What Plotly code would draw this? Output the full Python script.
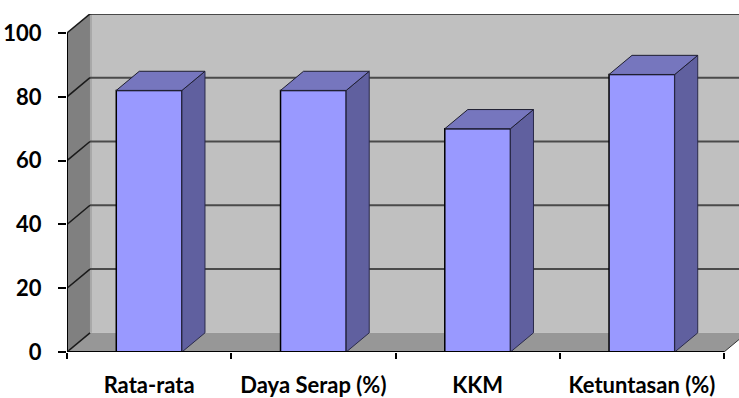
import plotly.graph_objects as go

# Data
categories = ["Rata-rata", "Daya Serap (%)", "KKM", "Ketuntasan (%)"]
values = [82, 82, 70, 87]
y_ticks = [0, 20, 40, 60, 80, 100]

# Pseudo-3D styling
FRONT = "#9999FF"
TOP = "#7676BE"
SIDE = "#60609F"
BACK_WALL = "#C0C0C0"
SIDE_WALL = "#808080"
FLOOR = "#979797"
GRID = "#4A4A4A"

n = len(categories)
xs = list(range(n))
half = 0.2          # half width of a bar (category units)
ddx = 0.14          # depth offset along x (category units)
ddy = 6.0           # depth offset along y (value units)
x_left = -0.5
x_right = n - 0.5
y_max = y_ticks[-1]
font = dict(family="Lato", size=22, color="black", weight="bold")


def poly(pts):
    return "M " + " L ".join(f"{x},{y}" for x, y in pts) + " Z"


shapes = []
# back wall
shapes.append(dict(type="path", layer="below", xref="x", yref="y",
                   path=poly([(x_left + ddx, ddy), (x_right + ddx + 0.2, ddy),
                              (x_right + ddx + 0.2, y_max + ddy), (x_left + ddx, y_max + ddy)]),
                   fillcolor=BACK_WALL, line=dict(width=0)))
# left wall
shapes.append(dict(type="path", layer="below", xref="x", yref="y",
                   path=poly([(x_left, 0), (x_left, y_max), (x_left + ddx, y_max + ddy), (x_left + ddx, ddy)]),
                   fillcolor=SIDE_WALL, line=dict(width=0)))
# floor
shapes.append(dict(type="path", layer="below", xref="x", yref="y",
                   path=poly([(x_left, 0), (x_right, 0), (x_right + ddx, ddy), (x_left + ddx, ddy)]),
                   fillcolor=FLOOR, line=dict(width=0)))
# wall junction highlight
shapes.append(dict(type="line", layer="below", xref="x", yref="y",
                   x0=x_left + ddx + 0.006, x1=x_left + ddx + 0.006, y0=ddy, y1=y_max + ddy,
                   line=dict(color="#A8A8A8", width=2)))
# gridlines: back wall + left-wall diagonals
for v in y_ticks:
    if v > 0:
        shapes.append(dict(type="line", layer="below", xref="x", yref="y",
                           x0=x_left + ddx, x1=x_right + ddx + 0.2, y0=v + ddy, y1=v + ddy,
                           line=dict(color=GRID if v < y_max else "#222222", width=2)))
    shapes.append(dict(type="line", layer="below", xref="x", yref="y",
                       x0=x_left, x1=x_left + ddx, y0=v, y1=v + ddy,
                       line=dict(color="#1A1A1A", width=1.5)))
# floor right edge
shapes.append(dict(type="line", layer="below", xref="x", yref="y",
                   x0=x_right, x1=x_right + ddx, y0=0, y1=ddy,
                   line=dict(color="#333333", width=1)))

# bar side and top faces
for x, v in zip(xs, values):
    shapes.append(dict(type="path", layer="above", xref="x", yref="y",
                       path=poly([(x + half, 0), (x + half + ddx, ddy), (x + half + ddx, v + ddy), (x + half, v)]),
                       fillcolor=SIDE, line=dict(color="#2A2A4A", width=1)))
    shapes.append(dict(type="path", layer="above", xref="x", yref="y",
                       path=poly([(x - half, v), (x - half + ddx, v + ddy), (x + half + ddx, v + ddy), (x + half, v)]),
                       fillcolor=TOP, line=dict(color="#1E1E30", width=1)))

# front axis lines
shapes.append(dict(type="line", layer="above", xref="x", yref="y",
                   x0=x_left, x1=x_left, y0=0, y1=y_max, line=dict(color="black", width=2)))
shapes.append(dict(type="line", layer="above", xref="x", yref="y",
                   x0=x_left, x1=x_right, y0=0, y1=0, line=dict(color="black", width=2)))

fig = go.Figure(go.Bar(
    x=xs, y=values, width=2 * half,
    marker=dict(color=FRONT, line=dict(color="black", width=1.5)),
    hoverinfo="skip",
))

fig.update_layout(
    width=739, height=398,
    margin=dict(l=67, r=0, t=14, b=46),
    paper_bgcolor="white", plot_bgcolor="white",
    showlegend=False,
    shapes=shapes,
    xaxis=dict(
        range=[x_left, x_left + 672 / 164.25],
        tickmode="array", tickvals=xs, ticktext=categories,
        ticks="", showgrid=False, zeroline=False, showline=False,
        tickfont=font, ticklabelstandoff=18, automargin=False,
        minor=dict(tickmode="array", tickvals=[i - 0.5 for i in range(n + 1)],
                   ticks="outside", ticklen=6, tickwidth=1.5, tickcolor="black", showgrid=False),
    ),
    yaxis=dict(
        range=[0, 338 / 3.19],
        tickmode="array", tickvals=y_ticks,
        ticks="outside", ticklen=8, tickwidth=1.5, tickcolor="black",
        showgrid=False, zeroline=False, showline=False,
        tickfont=font, ticklabelstandoff=12, automargin=False,
    ),
)

fig.write_html("out.html")
